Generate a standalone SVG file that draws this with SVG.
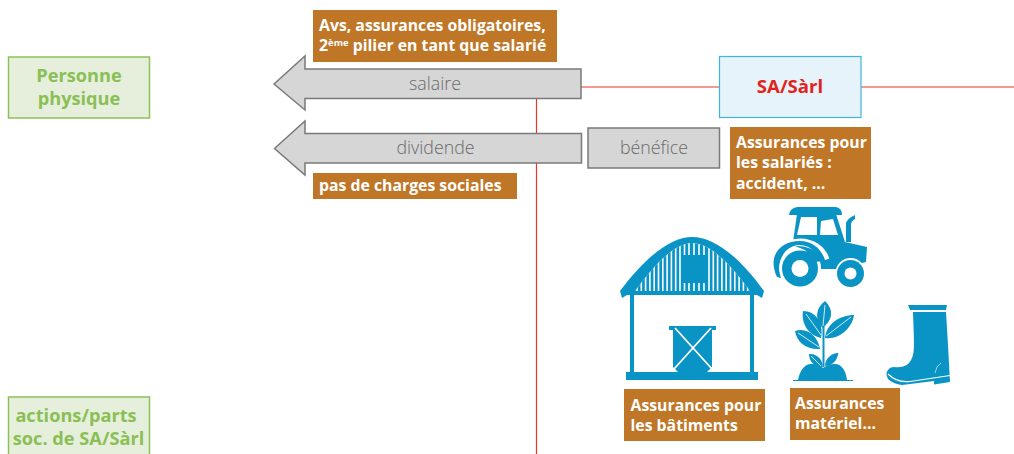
<svg xmlns="http://www.w3.org/2000/svg" width="1014" height="454" viewBox="0 0 1014 454">
<style>
text{font-family:"Open Sans","Noto Sans","Liberation Sans",sans-serif}
.g{fill:#e6efdc;stroke:#8bc15a;stroke-width:1.5}
.gt{fill:#8abf55;font-size:18.2px;font-weight:700;text-anchor:middle}
.ar{fill:#d6d6d6;stroke:#7a7a7a;stroke-width:1.5}
.lb{fill:#6a6a6a;font-size:17.800px;text-anchor:middle;font-weight:300}
.b{fill:#bf7727}
.bt{fill:#fff;font-size:15.800px;font-weight:700}
.ln{stroke:#e8352a;stroke-width:1.2;fill:none}
.ic{fill:#0a94c6}
.w{stroke:#fff;fill:none}
</style>
<defs>
<clipPath id="rf"><path d="M635 291C655 264 675 243 692 243C710 243 730 264 750 291Z"/></clipPath>
</defs>
<g id="connectors">
<path class="ln" d="M536.5 98V454M581 87H719M861 87H1014"/>
</g>
<g id="personne"><rect class="g" x="8.5" y="57" width="141" height="61"/><text class="gt" x="79" y="82">Personne</text><text class="gt" x="79" y="105">physique</text></g>
<g id="actions"><rect class="g" x="8.5" y="397" width="141" height="70"/><text class="gt" x="76" y="422">actions/parts</text><text class="gt" x="78.500" y="445">soc. de SA/Sàrl</text></g>
<g id="salaire"><path class="ar" d="M274 84L305 56V69H581V98.500H305V110Z"/><text class="lb" x="435" y="90">salaire</text></g>
<g id="dividende"><path class="ar" d="M274.500 148.500L305 121V133.500H581.500V163H305V175Z"/><text class="lb" x="435.500" y="154">dividende</text></g>
<g id="benefice"><rect class="ar" x="588" y="128" width="131.500" height="40"/><text class="lb" x="654" y="154">bénéfice</text></g>
<g id="sarl"><rect x="719.500" y="56.500" width="141.500" height="61" fill="#e6f3fa" stroke="#3fb4e0" stroke-width="1.2"/><text x="790" y="93" fill="#e3231b" font-size="18.600" font-weight="700" text-anchor="middle">SA/Sàrl</text></g>
<g id="note-avs"><rect class="b" x="313" y="10" width="244" height="52"/><text class="bt" x="319" y="31">Avs, assurances obligatoires,</text><text class="bt" x="319" y="51">2<tspan font-size="9.500" dy="-5">ème</tspan><tspan dy="5"> pilier en tant que salarié</tspan></text></g>
<g id="note-charges"><rect class="b" x="313" y="173" width="204" height="26"/><text class="bt" x="319" y="191">pas de charges sociales</text></g>
<g id="note-salaries"><rect class="b" x="730" y="127" width="141" height="72"/><text class="bt" x="736" y="148">Assurances pour</text><text class="bt" x="736" y="168">les salariés :</text><text class="bt" x="736" y="189">accident, …</text></g>
<g id="note-batiments"><rect class="b" x="624" y="389" width="141" height="52"/><text class="bt" x="630.500" y="410.500">Assurances pour</text><text class="bt" x="630.500" y="430.500">les bâtiments</text></g>
<g id="note-materiel"><rect class="b" x="790" y="388" width="110" height="52"/><text class="bt" x="795" y="409">Assurances</text><text class="bt" x="795" y="429">matériel…</text></g>
<g id="tractor">
<path class="ic" d="M789 215Q790 208 797 207H836Q842 208 842 215Z"/>
<path class="ic" d="M797 214L793 242L800 262L811 269H840L866 262L867 247L845 242L836 214Z"/>
<path class="ic" d="M846 242V224Q846 219 855 215V219Q851 221 851 225V242Z"/>
<path fill="#fff" d="M797 235L801 217H817V235ZM821 221L833 219L838 235H820Z"/>
<path d="M779 276C775 255 785 243 800 243C812 243 822 250 825 260" fill="none" stroke="#fff" stroke-width="9"/>
<path class="ic" d="M777 277C767 256 780 241 800 241C813 241 822 250 825 260L821 261C816 250 808 245 799 245C786 246 776 258 781 278Z"/>
<circle cx="800" cy="268" r="21" fill="#fff"/>
<path class="ic" d="M795 246C808 245 820 252 825 261L814 262L805 250Z"/>
<circle cx="850.500" cy="273" r="15" fill="#fff"/>
<circle class="ic" cx="800" cy="268.500" r="18"/><circle cx="800" cy="268.500" r="8.500" fill="#fff"/>
<circle class="ic" cx="850.500" cy="273.500" r="13.500"/><circle cx="850.500" cy="273.500" r="6" fill="#fff"/>
</g>
<g id="barn">
<path class="ic" d="M622 298L620 291C645 258 670 237 692 237C715 237 740 258 764 291L762 298L757 295H627Z"/>
<path fill="#fff" d="M635 291C655 264 675 243 692 243C710 243 730 264 750 291Z"/>
<g clip-path="url(#rf)">
<rect class="ic" x="630" y="240" width="125" height="52"/>
<path class="w" stroke-width="1.600" d="M637 240V292M641.300 240V292M645.600 240V292M649.900 240V292M654.200 240V292M658.500 240V292M662.800 240V292M667.100 240V292M671.400 240V292M675.700 240V292M680 240V292M709 240V292M713.300 240V292M717.600 240V292M721.900 240V292M726.200 240V292M730.500 240V292M734.800 240V292M739.100 240V292M743.400 240V292M747.700 240V292M684.500 240V255M684.500 283V292M689 240V255M689 283V292M694 240V255M694 283V292M699 240V255M699 283V292M704 240V255M704 283V292"/>
</g>
<rect class="ic" x="630" y="293" width="4" height="80"/><rect class="ic" x="750" y="293" width="4" height="80"/>
<rect class="ic" x="626" y="372" width="132" height="8"/>
<rect class="ic" x="669" y="326" width="47" height="4"/>
<path class="ic" d="M673 330H712V367L707 372H678L673 367Z"/>
<path class="w" stroke-width="1.800" d="M675 328L712 369M711 328L674 369"/>
</g>
<g id="plant">
<path class="ic" d="M793 380H853V381H793Z"/>
<path class="ic" d="M798 380C800 370 805 364 811 364C817 364 821 366 823 368C826 366 830 364 835 364C841 364 846 370 847 380Z"/>
<path d="M823.500 367V318" stroke="#0a94c6" stroke-width="2" fill="none"/>
<path class="ic" d="M825 301C833 309 834 319 822.500 328C814 318 816 308 825 301Z"/>
<path class="ic" d="M803 311C815 311 824 322 821 338C808 335 801 323 803 311Z"/>
<path class="ic" d="M854 315C852 329 838 340 825 338C826 324 840 315 854 315Z"/>
<path class="ic" d="M795 331C808 327 818 337 820 349C807 350 797 343 795 331Z"/>
<path class="ic" d="M809 354C817 353 823 360 822.500 367C814 367 809 361 809 354Z"/>
<path class="ic" d="M838.500 353C837 361 832 366 825 366C825 359 831 353 838.500 353Z"/>
<path class="w" stroke-width="0.800" d="M825 305L823 326M806 314L821 335M851 317L826 336M798 333L819 347M811 356L821 366"/>
</g>
<g id="boot">
<path class="ic" d="M908 305H947L946 310H910Z"/>
<path class="ic" d="M913 312H946L948 345L950 382L934 384.500L934 381L902 385Q893 384 888 379Q885 373 888 370Q890 367 894 367C902 368 909 366 912 358C915 352 914 340 913 312Z"/>
<path class="w" stroke-width="1.200" d="M888 374Q897 383 910 381.500L950 375.500"/>
<path class="w" stroke-width="0.600" d="M935 373Q936 366 941 363"/>
</g>
</svg>
